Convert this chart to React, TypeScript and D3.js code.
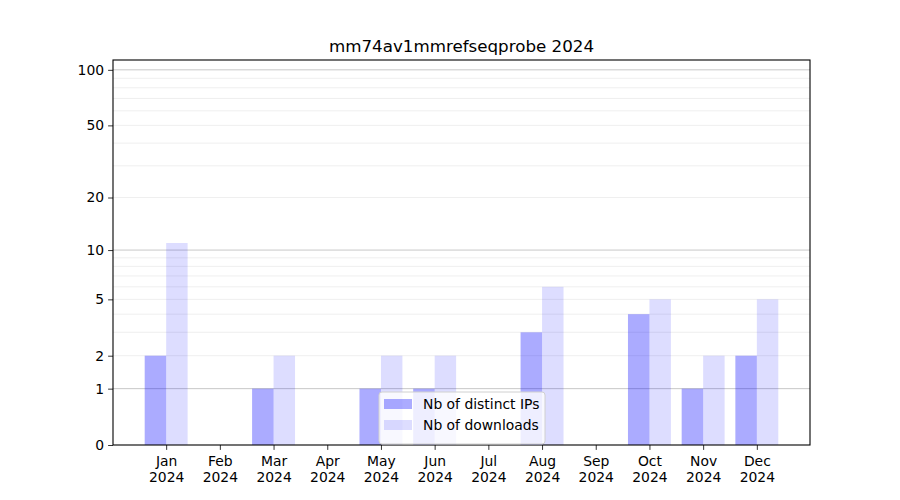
import { useEffect, useRef } from "react";
import * as d3 from "d3";

const months = ["Jan", "Feb", "Mar", "Apr", "May", "Jun", "Jul", "Aug", "Sep", "Oct", "Nov", "Dec"];
const year = "2024";
const distinctIps = [2, 0, 1, 0, 1, 1, 0, 3, 0, 4, 1, 2];
const downloads = [11, 0, 2, 0, 2, 2, 0, 6, 0, 5, 2, 5];
const yTicks = [0, 1, 2, 5, 10, 20, 50, 100];
const majorGrid = [1, 10, 100];
const minorGrid = [2, 3, 4, 5, 6, 7, 8, 9, 20, 30, 40, 50, 60, 70, 80, 90];

const W = 900;
const H = 500;
const FONT = "DejaVu Sans, sans-serif";

export default function App() {
  const svgRef = useRef<SVGSVGElement>(null);

  useEffect(() => {
    if (!svgRef.current) return;
    const root = d3.select(svgRef.current);
    root.selectAll("*").remove();

    const margin = { top: 60, right: 90, bottom: 55, left: 113 };
    const width = W - margin.left - margin.right;
    const height = H - margin.top - margin.bottom;

    const svg = root.append("g").attr("transform", `translate(${margin.left},${margin.top})`);

    const x = d3.scaleLinear().domain([-0.99, 11.99]).range([0, width]);
    const y = d3.scaleSymlog().constant(1).domain([0, 113]).range([height, 0]);

    // grid
    svg.selectAll(".minor")
      .data(minorGrid).enter().append("line")
      .attr("x1", 0).attr("x2", width)
      .attr("y1", d => y(d)).attr("y2", d => y(d))
      .attr("stroke", "#ebebeb").attr("stroke-width", 0.8);
    svg.selectAll(".major")
      .data(majorGrid).enter().append("line")
      .attr("x1", 0).attr("x2", width)
      .attr("y1", d => y(d)).attr("y2", d => y(d))
      .attr("stroke", "#c8c8c8").attr("stroke-width", 1);

    const bw = x(0.4) - x(0);

    svg.selectAll(".bar-ip")
      .data(distinctIps).enter().append("rect")
      .attr("x", (d, i) => x(i - 0.4))
      .attr("y", d => y(d))
      .attr("width", bw)
      .attr("height", d => height - y(d))
      .attr("fill", "blue").attr("fill-opacity", 0.33);

    svg.selectAll(".bar-dl")
      .data(downloads).enter().append("rect")
      .attr("x", (d, i) => x(i))
      .attr("y", d => y(d))
      .attr("width", bw)
      .attr("height", d => height - y(d))
      .attr("fill", "blue").attr("fill-opacity", 0.135);

    // y axis
    svg.append("g")
      .call(d3.axisLeft(y).tickValues(yTicks).tickFormat(d => `${d}`).tickSize(4.9).tickPadding(4))
      .call(g => g.select(".domain").remove())
      .call(g => g.selectAll(".tick line").attr("stroke", "#000").attr("stroke-width", 0.8))
      .call(g => g.selectAll(".tick text").attr("fill", "#000").attr("font-size", "13.9px").attr("font-family", FONT));

    // x axis
    const xAxis = svg.append("g")
      .attr("transform", `translate(0,${height})`)
      .call(d3.axisBottom(x).tickValues(d3.range(months.length)).tickFormat(() => "").tickSize(4.9))
      .call(g => g.select(".domain").remove())
      .call(g => g.selectAll(".tick line").attr("stroke", "#000").attr("stroke-width", 0.8));

    xAxis.selectAll(".tick").each(function (d) {
      const t = d3.select(this).select("text")
        .attr("fill", "#000").attr("font-size", "13.9px").attr("font-family", FONT)
        .attr("y", 8).attr("dy", "0.95em");
      t.append("tspan").attr("x", 0).text(months[d as number]);
      t.append("tspan").attr("x", 0).attr("dy", "1.15em").text(year);
    });

    // frame
    svg.append("rect")
      .attr("x", 0).attr("y", 0).attr("width", width).attr("height", height)
      .attr("fill", "none").attr("stroke", "#000").attr("stroke-width", 1.1);

    // title
    svg.append("text")
      .attr("x", width / 2).attr("y", -8)
      .attr("text-anchor", "middle")
      .attr("font-family", FONT).attr("font-size", "16.7px").attr("fill", "#000")
      .text(`mm74av1mmrefseqprobe ${year}`);

    // legend
    const items = [
      { label: "Nb of distinct IPs", opacity: 0.33 },
      { label: "Nb of downloads", opacity: 0.135 },
    ];
    const lw = 166;
    const lh = 52;
    const lg = svg.append("g").attr("transform", `translate(${width / 2 - lw / 2 + 0.5},${height - lh - 1})`);
    lg.append("rect")
      .attr("width", lw).attr("height", lh).attr("rx", 3)
      .attr("fill", "#fff").attr("fill-opacity", 0.8)
      .attr("stroke", "#d0d0d0").attr("stroke-width", 1);
    items.forEach((it, i) => {
      const row = lg.append("g").attr("transform", `translate(5,${7 + i * 21})`);
      row.append("rect")
        .attr("width", 28).attr("height", 10)
        .attr("fill", "blue").attr("fill-opacity", it.opacity);
      row.append("text")
        .attr("x", 39).attr("y", 5).attr("dy", "0.35em")
        .attr("font-family", FONT).attr("font-size", "13.9px").attr("fill", "#000")
        .text(it.label);
    });
  }, []);

  return (
    <svg
      ref={svgRef}
      width={W}
      height={H}
      style={{ position: "absolute", left: 0, top: 0, background: "#fff" }}
    />
  );
}
